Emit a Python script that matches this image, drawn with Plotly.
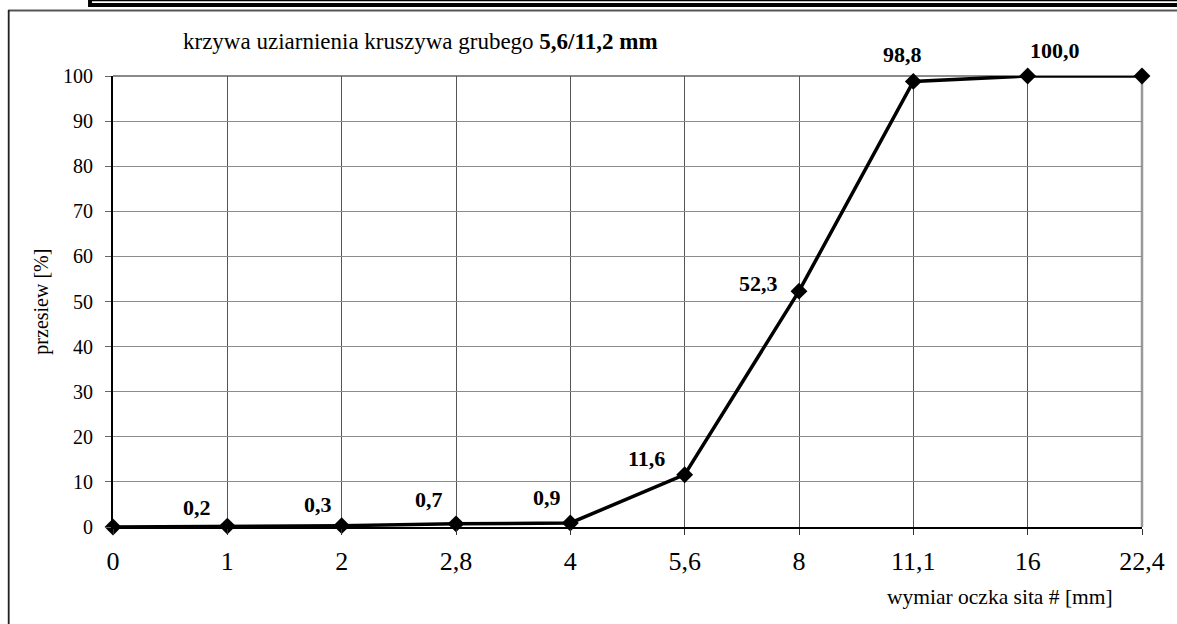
import plotly.graph_objects as go

# ---- data ----
sieve_labels = ["0", "1", "2", "2,8", "4", "5,6", "8", "11,1", "16", "22,4"]
passing = [0.0, 0.2, 0.3, 0.7, 0.9, 11.6, 52.3, 98.8, 100.0, 100.0]
value_labels = ["", "0,2", "0,3", "0,7", "0,9", "11,6", "52,3", "98,8", "100,0", ""]
y_ticks = [0, 10, 20, 30, 40, 50, 60, 70, 80, 90, 100]

# label offsets (pixels)
label_dx = [0, -30, -24, -27, -23, -38, -41, -11, 27, 0]
label_dy = [0, 19, 21, 24, 25, 16, 8, 27, 26, 0]

W, H = 1177, 624
L, R, T, B = 113, 33, 76, 97
PW, PH = W - L - R, H - T - B


def px(p):
    return (p - L) / PW


def py(p):
    return (H - B - p) / PH


FONT = "Liberation Serif, Times New Roman, serif"

fig = go.Figure()
fig.add_trace(go.Scatter(
    x=sieve_labels, y=passing, mode="lines+markers",
    line=dict(color="black", width=3.5),
    marker=dict(symbol="diamond", size=13, color="black"),
    cliponaxis=False, showlegend=False, hoverinfo="x+y",
))

annotations = []
for i, txt in enumerate(value_labels):
    if not txt:
        continue
    annotations.append(dict(
        x=i, y=passing[i], xref="x", yref="y", text="<b>%s</b>" % txt,
        showarrow=False, xshift=label_dx[i], yshift=label_dy[i],
        font=dict(family=FONT, size=22, color="black"),
    ))

annotations.append(dict(
    x=px(181), y=py(42), xref="paper", yref="paper", xanchor="left", yanchor="middle",
    text="krzywa uziarnienia kruszywa grubego <b>5,6/11,2 mm</b>", showarrow=False,
    font=dict(family=FONT, size=23, color="black"),
))
annotations.append(dict(
    x=px(41), y=0.5, xref="paper", yref="paper", xanchor="center", yanchor="middle",
    text="przesiew [%]", textangle=-90, showarrow=False,
    font=dict(family=FONT, size=20, color="black"),
))
annotations.append(dict(
    x=px(1002), y=py(597), xref="paper", yref="paper", xanchor="center", yanchor="middle",
    text="wymiar oczka sita # [mm]", showarrow=False,
    font=dict(family=FONT, size=21.5, color="black"),
))

shapes = [
    # page border at top (double line)
    dict(type="rect", xref="paper", yref="paper", x0=px(88), x1=px(W + 5), y0=py(-5), y1=py(7),
         fillcolor="black", line=dict(width=0), layer="above"),
    dict(type="rect", xref="paper", yref="paper", x0=px(92), x1=px(W + 5), y0=py(1.2), y1=py(3.0),
         fillcolor="white", line=dict(width=0), layer="above"),
    # chart frame
    dict(type="line", xref="paper", yref="paper", x0=px(8), x1=px(W + 5), y0=py(10.5), y1=py(10.5),
         line=dict(color="#555555", width=2), layer="above"),
    dict(type="line", xref="paper", yref="paper", x0=px(8.5), x1=px(8.5), y0=py(10), y1=py(H + 5),
         line=dict(color="#222222", width=1.8), layer="above"),
    # plot area top and right borders
    dict(type="line", xref="paper", yref="paper", x0=0, x1=1, y0=1, y1=1,
         line=dict(color="#8a8a8a", width=2), layer="below"),
    dict(type="line", xref="paper", yref="paper", x0=1, x1=1, y0=0, y1=1,
         line=dict(color="#999999", width=2.5), layer="below"),
]

fig.update_layout(
    width=W, height=H,
    margin=dict(l=L, r=R, t=T, b=B),
    paper_bgcolor="white", plot_bgcolor="white",
    font=dict(family=FONT, color="black"),
    annotations=annotations, shapes=shapes,
    xaxis=dict(
        type="category", range=[0, len(sieve_labels) - 1],
        tickvals=sieve_labels, ticktext=sieve_labels,
        showgrid=True, gridcolor="#555555", gridwidth=1,
        showline=True, linecolor="black", linewidth=2,
        ticks="outside", ticklen=6, tickcolor="#333333", tickwidth=1,
        tickfont=dict(family=FONT, size=26, color="black"),
        ticklabelstandoff=4, zeroline=False, fixedrange=True,
    ),
    yaxis=dict(
        range=[0, 100], tickvals=y_ticks,
        showgrid=True, gridcolor="#8c8c8c", gridwidth=1.2,
        showline=True, linecolor="black", linewidth=2,
        ticks="outside", ticklen=6, tickcolor="#666666", tickwidth=1,
        tickfont=dict(family=FONT, size=20, color="black"),
        ticklabelstandoff=8, zeroline=False, fixedrange=True,
    ),
)

fig.write_html(
    "out.html",
    config={"displayModeBar": False},
    post_script="document.body.style.margin='0';document.body.style.overflow='hidden';",
)
